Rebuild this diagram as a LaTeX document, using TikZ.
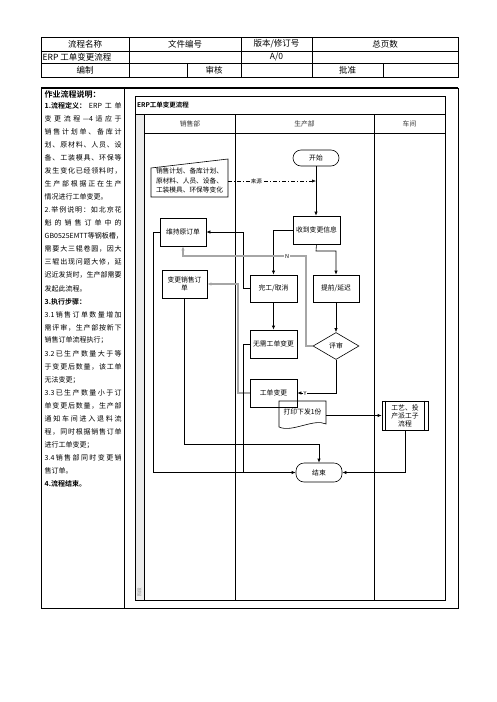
\documentclass[tikz,border=0pt]{standalone}
\usepackage{fontspec}
\setmainfont{Noto Sans CJK SC}[BoldFont={Noto Sans CJK SC Bold}]
\usetikzlibrary{arrows.meta,shapes.geometric}
\def\spreadendmark{\spreadend}
\def\spreadtxt#1{\spreadfirst#1\spreadend}
\def\spreadfirst#1{#1\spreadnext}
\def\spreadnext#1{\def\spreadtmp{#1}\ifx\spreadtmp\spreadendmark\else\hfil#1\expandafter\spreadnext\fi}
\newcommand\jline[1]{\makebox[77pt][s]{\spreadtxt{#1}}}
\begin{document}
\begin{tikzpicture}[x=1pt,y=-1pt,
  tbl/.style={inner sep=0pt,font=\fontsize{8.5}{10}\selectfont},
  dsc/.style={inner sep=0pt,anchor=west,font=\fontsize{7}{9}\selectfont},
  box/.style={draw,line width=0.6pt,minimum width=47pt,minimum height=28pt,inner sep=1pt,align=center,font=\fontsize{6.8}{8.5}\selectfont},
  term/.style={box,rounded corners=8pt,minimum width=46pt,minimum height=16pt},
  lbl/.style={inner sep=0.6pt,fill=white,font=\fontsize{5.5}{6}\selectfont},
  ln/.style={line width=0.6pt},
  arr/.style={line width=0.6pt,-{Latex[length=4pt,width=3.2pt]}},
  garr/.style={line width=1.1pt,draw=gray!70,-{Latex[length=4pt,width=3.4pt]}},
  lane/.style={inner sep=0pt,font=\fontsize{6.8}{8}\selectfont,text=black!80}
]
\useasboundingbox (0,0) rectangle (496,702);

% ---------- header table ----------
\draw[line width=0.6pt] (41,37) rectangle (458,77);
\draw[line width=0.6pt] (41,51) -- (458,51) (41,63) -- (458,63);
\draw[line width=0.6pt] (129,37) -- (129,77) (241,37) -- (241,77) (312,37) -- (312,77);
\draw[line width=0.6pt] (187,63) -- (187,77) (383,63) -- (383,77);
\node[tbl] (h1) at (85,44) {流程名称};
\node[tbl] (h2) at (185,44) {文件编号};
\node[tbl] (h3) at (276.5,44) {版本/修订号};
\node[tbl] (h4) at (385,44) {总页数};
\node[tbl,anchor=west] (h5) at (42.5,57) {ERP 工单变更流程};
\node[tbl] (h6) at (276.5,57) {A/0};
\node[tbl] (h7) at (85,70) {编制};
\node[tbl] (h8) at (214,70) {审核};
\node[tbl] (h9) at (347.5,70) {批准};

% ---------- main frame ----------
\draw[line width=0.9pt] (41,88) rectangle (458,608);
\draw[line width=1.5pt] (41,88) -- (458,88);
\draw[line width=0.8pt] (124,88) -- (124,608);

% ---------- description ----------
\node[dsc,font=\bfseries\fontsize{8}{9}\selectfont] (dt) at (44.5,94.5) {作业流程说明：};
\node[dsc] (d1) at (44.5,106.0) {\jline{{\textbf{1.流程定义：}}{ERP}工单}};
\node[dsc] (d2) at (44.5,119.0) {\jline{变更流程{---4}适应于}};
\node[dsc] (d3) at (44.5,132.1) {\jline{销售计划单、备库计}};
\node[dsc] (d4) at (44.5,145.1) {\jline{划、原材料、人员、设}};
\node[dsc] (d5) at (44.5,158.1) {\jline{备、工装模具、环保等}};
\node[dsc] (d6) at (44.5,171.2) {\jline{发生变化已经领料时，}};
\node[dsc] (d7) at (44.5,184.2) {\jline{生产部根据正在生产}};
\node[dsc] (d8) at (44.5,197.2) {情况进行工单变更。};
\node[dsc] (d9) at (44.5,210.2) {\jline{{2.}举例说明：如北京花}};
\node[dsc] (d10) at (44.5,223.3) {\jline{魁的销售订单中的}};
\node[dsc] (d11) at (44.5,236.3) {\jline{{GB0525EMTT}等钢板槽，}};
\node[dsc] (d12) at (44.5,249.3) {\jline{需要大三辊卷圆，因大}};
\node[dsc] (d13) at (44.5,262.4) {\jline{三辊出现问题大修，延}};
\node[dsc] (d14) at (44.5,275.4) {\jline{迟近发货时，生产部需要}};
\node[dsc] (d15) at (44.5,288.4) {发起此流程。};
\node[dsc] (d16) at (44.5,301.5) {\textbf{3.执行步骤：}};
\node[dsc] (d17) at (44.5,314.5) {\jline{{3.1}销售订单数量增加}};
\node[dsc] (d18) at (44.5,327.5) {\jline{需评审，生产部按新下}};
\node[dsc] (d19) at (44.5,340.5) {销售订单流程执行；};
\node[dsc] (d20) at (44.5,353.6) {\jline{{3.2}已生产数量大于等}};
\node[dsc] (d21) at (44.5,366.6) {\jline{于变更后数量，该工单}};
\node[dsc] (d22) at (44.5,379.6) {无法变更；};
\node[dsc] (d23) at (44.5,392.7) {\jline{{3.3}已生产数量小于订}};
\node[dsc] (d24) at (44.5,405.7) {\jline{单变更后数量，生产部}};
\node[dsc] (d25) at (44.5,418.7) {\jline{通知车间进入退料流}};
\node[dsc] (d26) at (44.5,431.8) {\jline{程，同时根据销售订单}};
\node[dsc] (d27) at (44.5,444.8) {进行工单变更；};
\node[dsc] (d28) at (44.5,457.8) {\jline{{3.4}销售部同时变更销}};
\node[dsc] (d29) at (44.5,470.9) {售订单。};
\node[dsc] (d30) at (44.5,483.9) {\textbf{4.流程结束。}};

% ---------- swimlane frame ----------
\fill[gray!15] (135,114) rectangle (144,600);
\draw[line width=0.7pt] (135,96) rectangle (445,600);
\draw[line width=0.7pt] (135,114) -- (445,114);
\draw[line width=0.7pt] (144,133) -- (445,133);
\draw[line width=0.7pt] (144,114) -- (144,600) (235,114) -- (235,600) (374,114) -- (374,600);
\node[inner sep=0pt,anchor=west,font=\bfseries\fontsize{6.5}{8}\selectfont] (dtitle) at (137,105) {ERP工单变更流程};
\node[lane] (l1) at (190,123.5) {销售部};
\node[lane] (l2) at (304.5,123.5) {生产部};
\node[lane] (l3) at (409.5,123.5) {车间};
\node[inner sep=0pt,rotate=90,font=\fontsize{4.5}{5}\selectfont,text=gray] (stage) at (139.5,592) {阶段};

% ---------- nodes ----------
\node[term] (start) at (316,158) {开始};
\draw[line width=0.6pt] (151,168) -- (228,159) -- (228,197) -- (151,197) -- cycle;
\node[inner sep=0pt,align=center,minimum width=77pt,font=\fontsize{6.7}{9.5}\selectfont] (src) at (189.5,180.5)
  {销售计划、备库计划、\\原材料、人员、设备、\\工装模具、环保等变化};
\coordinate (jn) at (316,181);
\node[box] (recv) at (316.5,230) {收到变更信息};
\node[box,minimum width=46pt] (keep) at (183,232) {维持原订单};
\node[box,minimum width=45pt] (chg) at (184.5,284) {变更销售订\\单};
\node[box,minimum height=27pt] (done) at (273.5,288.5) {完工/取消};
\node[box,minimum width=46pt,minimum height=27pt] (adv) at (336,288.5) {提前/延迟};
\node[box] (noneed) at (273.5,344) {无需工单变更};
\node[draw,diamond,line width=0.6pt,minimum width=46pt,minimum height=27pt,inner sep=0pt,font=\fontsize{6.8}{8}\selectfont] (rev) at (336,346) {评审};
\node[box] (wo) at (273.5,393) {工单变更};
\draw[line width=0.6pt] (279,401) -- (326,401) -- (326,424) .. controls (314,418) and (292,433) .. (279,427) -- cycle;
\node[inner sep=0pt,minimum width=47pt,minimum height=22pt,font=\fontsize{6.8}{8}\selectfont] (print) at (302.5,411.5) {打印下发1份};
\node[box,minimum width=46pt,minimum height=29pt,font=\fontsize{6.8}{8}\selectfont] (sub) at (405,415.5) {工艺、投\\产派工子\\流程};
\draw[ln] ([xshift=4pt]sub.north west) -- ([xshift=4pt]sub.south west);
\draw[ln] ([xshift=-4pt]sub.north east) -- ([xshift=-4pt]sub.south east);
\node[term,minimum height=19pt] (end) at (319,472.5) {结束};

% ---------- connectors ----------
\draw[arr] (start.south) -- (start.south |- recv.north);
\draw[arr,dash pattern=on 4pt off 2pt on 1pt off 2pt] (src.east |- jn) -- (jn)
  node[lbl,pos=0.32] (srclbl) {来源};
\draw[arr] (recv.west) -| (done.north);
\draw[arr] (recv.south) -- (316,251) -| (adv.north);
\draw[arr] (done.west) -- (243,288.5) |- (keep.east);
\draw[arr] (done.south) -- (noneed.north);
\draw[arr] (adv.south) -- (rev.north);
\draw[arr] (rev.south) |- (wo.east) node[lbl,pos=0.9] (ylbl) {Y};
\draw[garr] (rev.west) -- (306,346) -- (306,256) -| (keep.south);
\node[lbl] (nlbl) at (287,256) {N};
\draw[garr] (wo.west) -- (238,393) |- (chg.east);
\draw[arr] (print.east |- sub.west) -- (sub.west);
\draw[arr] (sub.south) |- (end.east);
\draw[arr] (keep.west) -- (153,232) |- (end.west);
\draw[ln] (noneed.west) -- (243,344) -- (243,472.5);
\draw[arr] (chg.south) -- (184.5,444) -| (end.north);
\end{tikzpicture}
\end{document}
